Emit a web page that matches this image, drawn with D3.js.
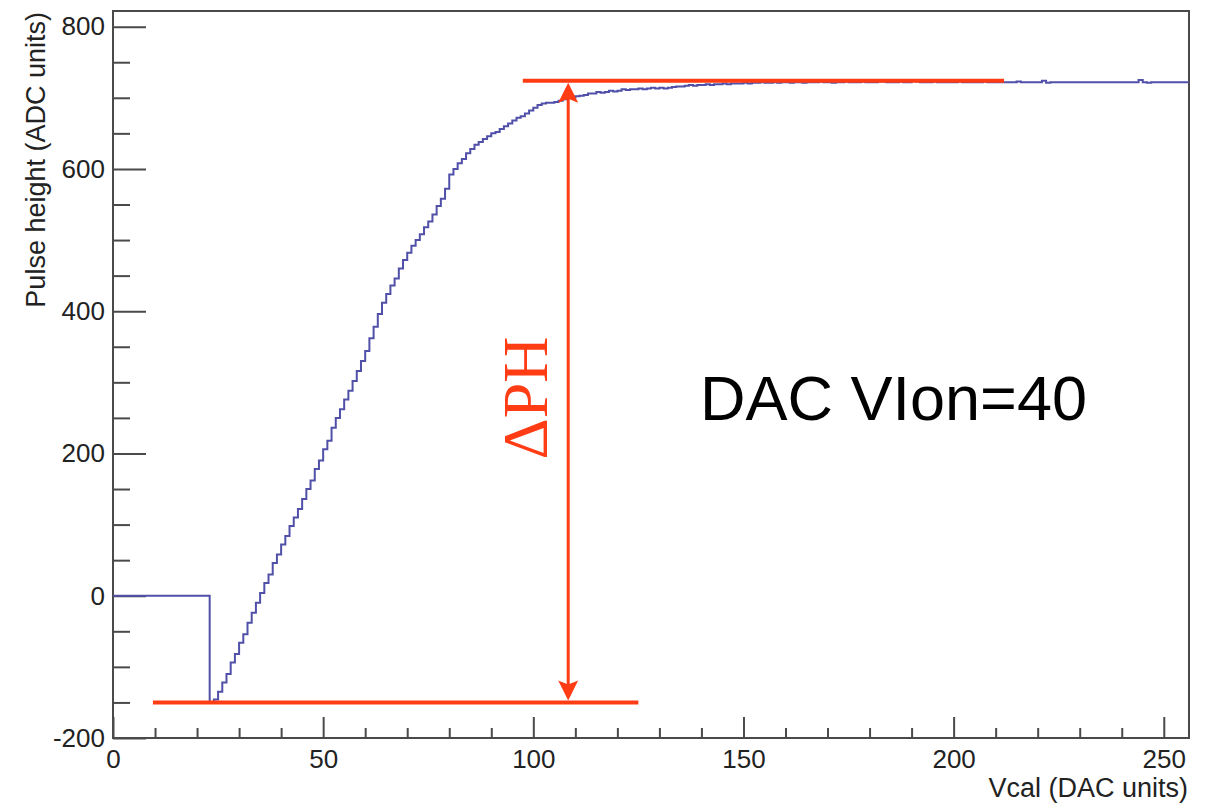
<!DOCTYPE html>
<html>
<head>
<meta charset="utf-8">
<script src="https://cdn.jsdelivr.net/npm/d3@7"></script>
<style>
  body { margin: 0; background: #fff; }
  svg { display: block; }
  .tick text { font-family: "Liberation Sans", Arial, sans-serif; fill: #222; }
</style>
</head>
<body>
<div class="chart"></div>
<script>
// pulse height per Vcal bin (bin i covers [i, i+1))
var pulseHeight = [
  0,0,0,0,0,0,0,0,0,0,0,0,0,0,0,0,
  0,0,0,0,0,0,0,-150,-146,-135,-122,-110,-94,-82,-66,-54,
  -38,-24,-10,4,18,30,46,58,72,84,98,110,122,136,150,162,
  178,190,206,218,236,250,262,276,288,302,316,330,344,362,378,396,
  412,424,436,446,460,472,482,492,500,508,518,526,536,548,558,572,
  592,600,608,614,622,628,634,638,642,646,650,652,656,660,664,668,
  672,674,678,682,686,690,692,693,693,694,696,698,700,700,702,703,
  704,706,706,708,707,708,710,709,710,712,711,712,712,713,712,713,
  714,713,714,713,714,715,716,716,717,718,717,718,718,719,718,719,
  719,720,719,720,720,720,721,720,721,721,722,721,721,722,721,722,
  722,721,722,722,721,722,722,722,723,722,722,721,722,722,723,722,
  722,722,723,722,722,722,723,723,722,722,722,723,722,722,724,723,
  722,722,722,723,722,722,722,722,722,723,722,722,722,722,722,723,
  722,722,722,722,722,722,722,723,722,722,722,722,722,724,721,722,
  722,722,722,722,722,722,722,722,722,722,722,722,722,722,722,722,
  722,722,722,722,725,722,721,722,722,722,722,722,722,722,722,722
];

var xMajorTicks = [0, 50, 100, 150, 200, 250];
var xMinorTicks = [10, 20, 30, 40, 60, 70, 80, 90, 110, 120, 130, 140, 160, 170, 180, 190, 210, 220, 230, 240];
var yMajorTicks = [-200, 0, 200, 400, 600, 800];
var yMinorTicks = [-150, -100, -50, 50, 100, 150, 250, 300, 350, 450, 500, 550, 650, 700, 750];

// delta PH annotation (in data units)
var topLine = [97.5, 212, 724];
var bottomLine = [9.5, 125, -150];
var arrowX = 108.3;
var label = "DAC VIon=40";

var width = 1212, height = 805;
var margin = {top: 11, right: 23, bottom: 67, left: 113};

var svg = d3.select(".chart").append("svg")
  .attr("width", width)
  .attr("height", height);

var x = d3.scaleLinear().domain([0, 256]).range([margin.left, width - margin.right]);
var y = d3.scaleLinear().domain([-200, 822]).range([height - margin.bottom, margin.top]);

var axisColor = "#4a4a4a";

// minor ticks first
svg.append("g")
  .attr("transform", "translate(0," + y(-200) + ")")
  .call(d3.axisBottom(x).tickValues(xMinorTicks).tickSize(-10).tickSizeOuter(0).tickFormat(""))
  .call(function(g) { g.select(".domain").remove(); });

svg.append("g")
  .attr("transform", "translate(" + x(0) + ",0)")
  .call(d3.axisLeft(y).tickValues(yMinorTicks).tickSize(-17).tickSizeOuter(0).tickFormat(""))
  .call(function(g) { g.select(".domain").remove(); });

// major ticks with labels (plain hyphen for negatives, like the original)
svg.append("g")
  .attr("transform", "translate(0," + y(-200) + ")")
  .call(d3.axisBottom(x).tickValues(xMajorTicks).tickSize(-21).tickSizeOuter(0).tickPadding(12).tickFormat(String))
  .call(function(g) { g.select(".domain").remove(); })
  .selectAll("text").attr("font-size", 26).attr("dy", "0.71em");

svg.append("g")
  .attr("transform", "translate(" + x(0) + ",0)")
  .call(d3.axisLeft(y).tickValues(yMajorTicks).tickSize(-33).tickSizeOuter(0).tickPadding(8).tickFormat(String))
  .call(function(g) { g.select(".domain").remove(); })
  .selectAll("text").attr("font-size", 26);

svg.selectAll(".tick line").attr("stroke", axisColor).attr("stroke-width", 2);

// frame
svg.append("rect")
  .attr("x", x(0)).attr("y", y(822))
  .attr("width", x(256) - x(0)).attr("height", y(-200) - y(822))
  .attr("fill", "none").attr("stroke", axisColor).attr("stroke-width", 2);

// histogram
var pts = pulseHeight.map(function(v, i) { return [i, v]; });
pts.push([pulseHeight.length, pulseHeight[pulseHeight.length - 1]]);

var line = d3.line()
  .x(function(d) { return x(d[0]); })
  .y(function(d) { return y(d[1]); })
  .curve(d3.curveStepAfter);

svg.append("path")
  .datum(pts)
  .attr("d", line)
  .attr("fill", "none")
  .attr("stroke", "#5050a8")
  .attr("stroke-width", 2);

// annotation
var red = "#ff3c14";
svg.append("line")
  .attr("x1", x(topLine[0])).attr("x2", x(topLine[1]))
  .attr("y1", y(topLine[2])).attr("y2", y(topLine[2]))
  .attr("stroke", red).attr("stroke-width", 4);
svg.append("line")
  .attr("x1", x(bottomLine[0])).attr("x2", x(bottomLine[1]))
  .attr("y1", y(bottomLine[2])).attr("y2", y(bottomLine[2]))
  .attr("stroke", red).attr("stroke-width", 4);

var ax = x(arrowX), ay1 = y(topLine[2]) + 2, ay2 = y(bottomLine[2]) - 2;
svg.append("line")
  .attr("x1", ax).attr("x2", ax)
  .attr("y1", ay1 + 15).attr("y2", ay2 - 15)
  .attr("stroke", red).attr("stroke-width", 3);
svg.append("path")
  .attr("d", "M" + ax + "," + ay1 + "L" + (ax - 10) + "," + (ay1 + 20) + "L" + ax + "," + (ay1 + 16) + "L" + (ax + 10) + "," + (ay1 + 20) + "Z")
  .attr("fill", red);
svg.append("path")
  .attr("d", "M" + ax + "," + ay2 + "L" + (ax - 10) + "," + (ay2 - 20) + "L" + ax + "," + (ay2 - 16) + "L" + (ax + 10) + "," + (ay2 - 20) + "Z")
  .attr("fill", red);

svg.append("text")
  .attr("transform", "translate(547,398) rotate(-90)")
  .attr("text-anchor", "middle")
  .attr("font-family", "Liberation Serif, Times New Roman, serif")
  .attr("font-size", 64)
  .attr("fill", red)
  .text("\u0394PH");

svg.append("text")
  .attr("x", 700).attr("y", 420)
  .attr("font-family", "Liberation Sans, Arial, sans-serif")
  .attr("font-size", 63)
  .attr("fill", "#000")
  .text(label);

// axis titles
svg.append("text")
  .attr("transform", "translate(45,12) rotate(-90)")
  .attr("text-anchor", "end")
  .attr("font-family", "Liberation Sans, Arial, sans-serif")
  .attr("font-size", 27)
  .attr("fill", "#222")
  .text("Pulse height (ADC units)");

svg.append("text")
  .attr("x", 1188).attr("y", 797)
  .attr("text-anchor", "end")
  .attr("font-family", "Liberation Sans, Arial, sans-serif")
  .attr("font-size", 27)
  .attr("fill", "#222")
  .text("Vcal (DAC units)");
</script>
</body>
</html>
